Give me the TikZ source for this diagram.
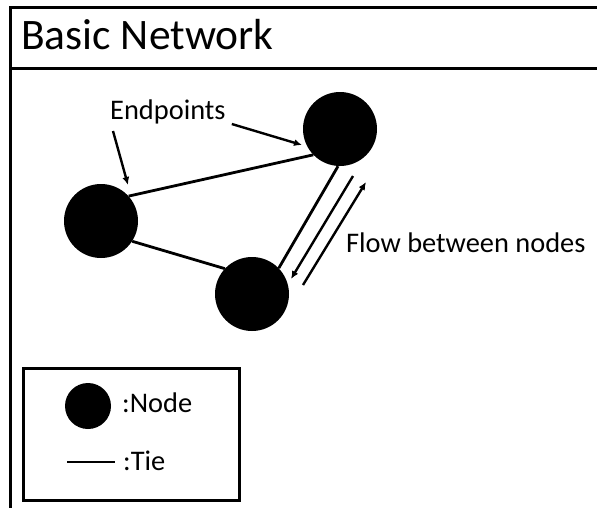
\documentclass[tikz,border=0pt]{standalone}
\usepackage{fontspec}
\setmainfont{Carlito}
\usetikzlibrary{arrows.meta}
\tikzset{
  netnode/.style={circle, fill=black, draw=none, minimum size=74pt, inner sep=0pt},
  tie/.style={line width=2.8pt},
  flowarrow/.style={line width=2.4pt, -{Latex[length=8pt,width=7pt]}},
  label/.style={inner sep=0pt, font=\fontsize{28.4}{32}\selectfont},
  frame/.style={line width=3pt}
}
\begin{document}
\begin{tikzpicture}[x=1pt,y=-1pt]
\useasboundingbox (0,0) rectangle (597,507);
\clip (0,0) rectangle (597,507);
\fill[white] (0,0) rectangle (597,507);

% outer frame, running off the right and bottom edges
\draw[frame] (10,520) -- (10,7) -- (610,7);
\draw[frame] (10,68) -- (610,68);
\node[inner sep=0pt, anchor=base west, font=\fontsize{43.5}{48}\selectfont] (title) at (21,49) {Basic Network};

% network nodes
\node[netnode] (top) at (340,129) {};
\node[netnode] (left) at (101,221) {};
\node[netnode] (bottom) at (252,294) {};

% ties
\draw[tie] (left.42) -- (top.-136);
\draw[tie] (left.-33) -- (bottom.137);
\draw[tie] (top.-93) -- (bottom.44);

% endpoint labels
\node[label, anchor=base west] (endpoints) at (110,119) {Endpoints};
\coordinate (epA) at (128,185);
\coordinate (epB) at (302,145);
\draw[flowarrow] (113,131) -- (epA);
\draw[flowarrow] (endpoints.east |- 0,124) ++(6,0) -- (epB);

% flow along the top-bottom tie
\coordinate (fa1) at (353,176);
\coordinate (fa2) at (291,279);
\coordinate (fb1) at (303,285);
\coordinate (fb2) at (366,182);
\draw[flowarrow] (fa1) -- (fa2);
\draw[flowarrow] (fb1) -- (fb2);
\node[label, anchor=base west] (flow) at (346,252) {Flow between nodes};

% legend
\draw[frame] (23,368) rectangle (239,500);
\node[circle, fill=black, minimum size=46pt, inner sep=0pt] (legnode) at (88,406) {};
\node[label, anchor=base west] (legnodetext) at (122,412) {:Node};
\coordinate (tieA) at (67,462);
\coordinate (tieB) at (115,462);
\draw[tie] (tieA) -- (tieB);
\node[label, anchor=base west] (legtietext) at (123,470) {:Tie};
\end{tikzpicture}
\end{document}
